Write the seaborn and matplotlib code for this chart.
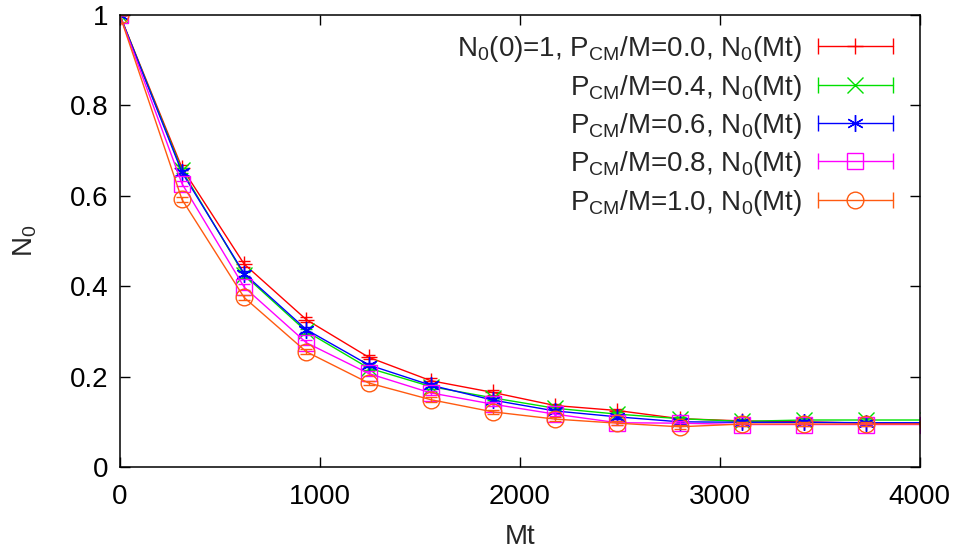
import numpy as np
import pandas as pd
import seaborn as sns
import matplotlib
matplotlib.use("Agg")
import matplotlib.pyplot as plt
from matplotlib.lines import Line2D
from matplotlib.legend_handler import HandlerBase
from matplotlib.ticker import FuncFormatter

# data
mt = [0, 311, 622, 933, 1244, 1555, 1866, 2177, 2488, 2799, 3110, 3421, 3732, 4043]
n0_00 = [1.0, 0.662, 0.449, 0.326, 0.243, 0.191, 0.165, 0.136, 0.125, 0.107, 0.102, 0.100, 0.097, 0.096]
n0_04 = [1.0, 0.656, 0.425, 0.300, 0.219, 0.178, 0.153, 0.130, 0.117, 0.107, 0.101, 0.104, 0.104, 0.104]
n0_06 = [1.0, 0.652, 0.428, 0.304, 0.226, 0.181, 0.148, 0.124, 0.111, 0.100, 0.099, 0.099, 0.098, 0.098]
n0_08 = [1.0, 0.627, 0.398, 0.275, 0.207, 0.164, 0.139, 0.117, 0.098, 0.097, 0.094, 0.094, 0.094, 0.094]
n0_10 = [1.0, 0.592, 0.375, 0.255, 0.186, 0.149, 0.122, 0.106, 0.097, 0.089, 0.095, 0.095, 0.095, 0.095]
yerr = [0.0, 0.006, 0.006, 0.006, 0.005, 0.005, 0.005, 0.004, 0.004, 0.004, 0.004, 0.004, 0.004, 0.004]

labels = [r"N$_\mathrm{0}$(0)=1, P$_\mathrm{CM}$/M=0.0, N$_\mathrm{0}$(Mt)",
          r"P$_\mathrm{CM}$/M=0.4, N$_\mathrm{0}$(Mt)",
          r"P$_\mathrm{CM}$/M=0.6, N$_\mathrm{0}$(Mt)",
          r"P$_\mathrm{CM}$/M=0.8, N$_\mathrm{0}$(Mt)",
          r"P$_\mathrm{CM}$/M=1.0, N$_\mathrm{0}$(Mt)"]
series = [n0_00, n0_04, n0_06, n0_08, n0_10]
colors = ["#ff0000", "#00e000", "#0000ff", "#ff00ff", "#ff5a10"]
markers = ["+", "x", (6, 2, 0), "s", "o"]   # gnuplot point types 1..5ish
msizes = [12, 11, 12, 11, 12]

sns.set_style("ticks")
plt.rcParams["font.family"] = ["Liberation Sans", "DejaVu Sans"]
plt.rcParams["mathtext.fontset"] = "custom"
plt.rcParams["mathtext.rm"] = "Liberation Sans"
plt.rcParams["mathtext.it"] = "Liberation Sans:italic"
FS = 20


class CapHandler(HandlerBase):
    # key sample like gnuplot: line with end caps, marker in the middle
    def create_artists(self, legend, orig, xdescent, ydescent, width, height, fontsize, trans):
        y = height / 2 - ydescent
        x0, x1 = -xdescent, width - xdescent
        c = orig.get_color()
        ln = Line2D([x0, x1], [y, y], color=c, lw=1.0)
        caps = Line2D([x0, x1], [y, y], ls="none", marker="|", ms=11, mew=1.0, color=c)
        mk = Line2D([(x0 + x1) / 2], [y], ls="none", marker=orig.get_marker(),
                    ms=orig.get_markersize(), mew=1.0, color=c, mfc="none")
        for a in (ln, caps, mk):
            a.set_transform(trans)
        return [ln, caps, mk]


fig = plt.figure(figsize=(9.58, 5.54), dpi=100)
ax = fig.add_axes([0.125, 0.157, 0.835, 0.816])

handles = []
for i in range(len(series)):
    df = pd.DataFrame({"Mt": mt, "N0": series[i]})
    sns.lineplot(data=df, x="Mt", y="N0", ax=ax, color=colors[i], lw=1.0,
                 marker=markers[i], markersize=msizes[i], markeredgewidth=1.0,
                 markerfacecolor="none", markeredgecolor=colors[i], legend=False)
    ax.errorbar(mt, series[i], yerr=yerr, fmt="none", ecolor=colors[i],
                elinewidth=1.0, capsize=4, capthick=1.0)
    handles.append(Line2D([], [], color=colors[i], marker=markers[i], ms=msizes[i]))

ax.set_xlim(0, 4000)
ax.set_ylim(0, 1)
ax.set_xticks([0, 1000, 2000, 3000, 4000])
ax.set_yticks([0, 0.2, 0.4, 0.6, 0.8, 1.0])
ax.yaxis.set_major_formatter(FuncFormatter(lambda v, p: "%g" % v))
ax.tick_params(direction="in", top=True, right=True, length=7, width=1.0,
               labelsize=FS, colors="black")
ax.tick_params(axis="x", pad=12)
ax.tick_params(axis="y", pad=8)
for s in ax.spines.values():
    s.set_linewidth(1.1)
    s.set_color("black")
ax.set_xlabel("Mt", fontsize=FS, labelpad=10)
ax.set_ylabel(r"N$_\mathrm{0}$", fontsize=FS, labelpad=22)

ax.legend(handles, labels, loc="upper right", bbox_to_anchor=(0.98, 0.982),
          frameon=False, fontsize=FS, markerfirst=False, handlelength=2.7,
          labelspacing=0.3, handletextpad=0.55, borderaxespad=0, borderpad=0.4,
          handler_map={Line2D: CapHandler()})

fig.savefig("out.png", dpi=100)
